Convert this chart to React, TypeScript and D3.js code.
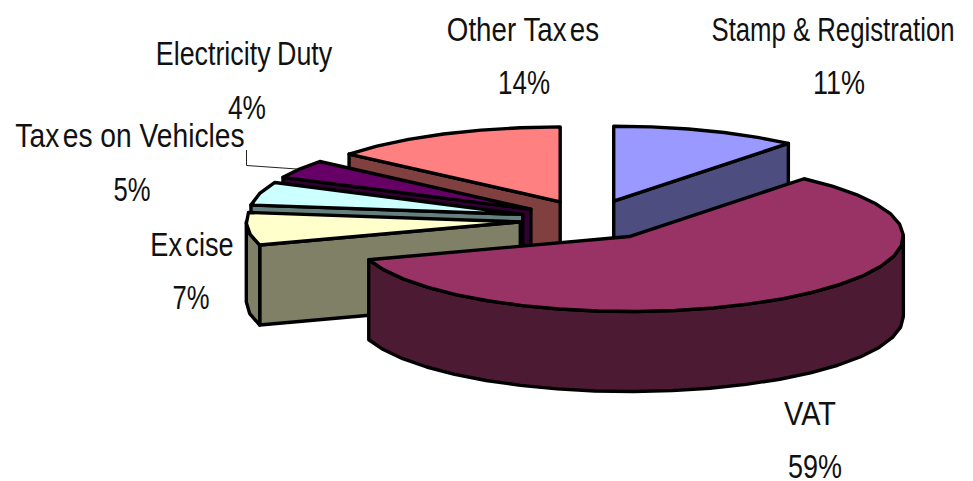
import React, { useLayoutEffect, useRef } from "react";
import * as d3 from "d3";

// Revenue shares, clockwise from twelve o'clock
const categories = ["Stamp & Registration", "VAT", "Excise", "Taxes on Vehicles", "Electricity Duty", "Other Taxes"];
const shares = [11, 59, 7, 5, 4, 14];
const topColors = ["#9999FF", "#993366", "#FFFFCC", "#CCFFFF", "#660066", "#FF8080"];
const sideColors = ["#4D4D80", "#4D1A33", "#808066", "#668080", "#330033", "#804040"];

// Back-to-front order for the painter's algorithm
const paintOrder = [5, 4, 3, 2, 0, 1];

// Label text runs; fragments carry the small gaps of the typesetting
const labelParts = [["Stamp & Registration"], ["VAT"], ["Ex", "cise"], ["Tax", "es on Vehicles"], ["Electricity", "Duty"], ["Other Tax", "es"]];
const labelGaps = [0, 0, 4, 4, 8, 4];
const labelX = [833, 810, 192, 130, 244, 523];
const labelWidth = [243, 52, 80, 226, 170, 149];
const labelY = [41, 425, 256, 147, 65, 41];
const percentX = [839, 815, 191, 132, 247, 524];
const percentY = [94, 478, 309, 201, 119, 94];
const percentWidth = [52, 54, 37, 37, 38, 52];

const W = 973;
const H = 481;
const cx = 590;
const cy = 220;
const rx = 274;
const ry = 75;
const depth = 80;
const explodeX = 70;
const explodeY = 20;
const arcStep = 0.14; // the rim is a coarse polyline, about 8 degrees a segment

const pie = d3.pie<number>().sort(null).startAngle(0).endAngle(2 * Math.PI);
const slices = pie(shares);
const line = d3.line();

type Pt = [number, number];

function rim(c: Pt, a: number, dy = 0): Pt {
  return [c[0] + rx * Math.sin(a), c[1] - ry * Math.cos(a) + dy];
}

function rimPoints(c: Pt, a0: number, a1: number, dy = 0): Pt[] {
  const n = Math.max(1, Math.round((a1 - a0) / arcStep));
  return d3.range(n + 1).map((i) => rim(c, a0 + ((a1 - a0) * i) / n, dy));
}

function Slice({ i }: { i: number }) {
  const s = slices[i];
  const mid = (s.startAngle + s.endAngle) / 2;
  const c: Pt = [cx + explodeX * Math.sin(mid), cy - explodeY * Math.cos(mid)];
  const below: Pt = [c[0], c[1] + depth];
  const faces: Pt[][] = [];

  // A cut face shows only when it turns toward the viewer
  if (Math.sin(s.startAngle) < -1e-6) {
    faces.push([c, rim(c, s.startAngle), rim(c, s.startAngle, depth), below]);
  }
  if (Math.sin(s.endAngle) > 1e-6) {
    faces.push([c, rim(c, s.endAngle), rim(c, s.endAngle, depth), below]);
  }
  // The outer wall shows over the front half of the ellipse
  const w0 = Math.max(s.startAngle, Math.PI / 2);
  const w1 = Math.min(s.endAngle, (3 * Math.PI) / 2);
  if (w1 > w0) {
    faces.push([...rimPoints(c, w0, w1), ...rimPoints(c, w0, w1, depth).reverse()]);
  }
  const top: Pt[] = [c, ...rimPoints(c, s.startAngle, s.endAngle)];

  return (
    <g stroke="#000" strokeWidth={3.4} strokeLinejoin="round">
      {faces.map((f, k) => (
        <path key={k} d={line(f) + "Z"} fill={sideColors[i]} />
      ))}
      <path d={line(top) + "Z"} fill={topColors[i]} />
    </g>
  );
}

// Centred text condensed horizontally to a given width, like a narrow sans
function NarrowText({ x, y, width, children }: { x: number; y: number; width: number; children: React.ReactNode }) {
  const ref = useRef<SVGTextElement>(null);
  useLayoutEffect(() => {
    const el = ref.current!;
    const natural = el.getComputedTextLength();
    el.setAttribute("transform", `translate(${x},${y}) scale(${width / natural},1)`);
  }, [x, y, width]);
  return <text ref={ref}>{children}</text>;
}

export default function App() {
  return (
    <svg width={W} height={H} style={{ position: "absolute", left: 0, top: 0, background: "#fff" }}>
      {paintOrder.map((i) => (
        <Slice key={i} i={i} />
      ))}
      <path
        d={line([[246.5, 150], [246.5, 165.5], [297, 169]])!}
        fill="none"
        stroke="#222"
        strokeWidth={1}
      />
      <g fontFamily="'Liberation Sans', sans-serif" fontSize={33} fill="#111" textAnchor="middle">
        {categories.map((name, i) => (
          <g key={name}>
            <NarrowText x={labelX[i]} y={labelY[i]} width={labelWidth[i]}>
              {labelParts[i].map((part, k) => (
                <tspan key={k} dx={k ? labelGaps[i] : 0}>
                  {part}
                </tspan>
              ))}
            </NarrowText>
            <NarrowText x={percentX[i]} y={percentY[i]} width={percentWidth[i]}>
              {shares[i]}%
            </NarrowText>
          </g>
        ))}
      </g>
    </svg>
  );
}
